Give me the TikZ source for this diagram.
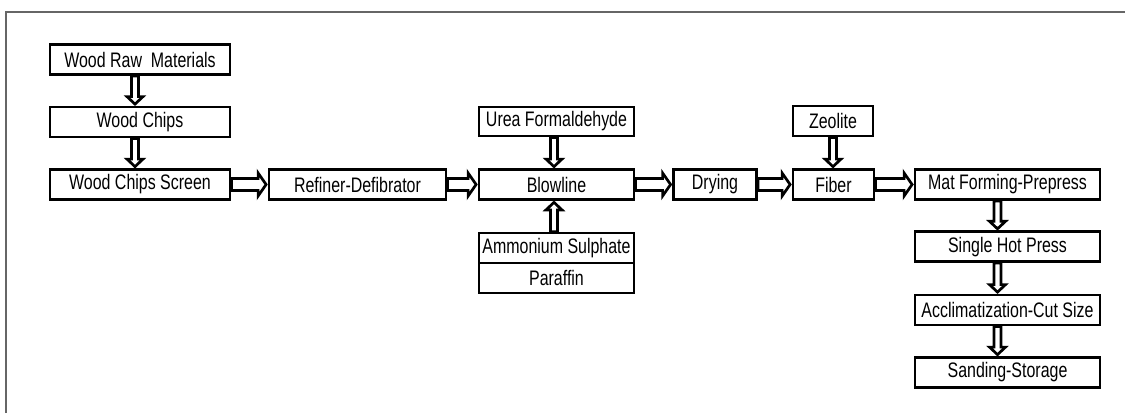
\documentclass[tikz,border=0pt]{standalone}
\usepackage{fontspec}
\setmainfont{Liberation Sans}[FakeStretch=0.76]
\usetikzlibrary{calc}

\tikzset{
  box/.style={draw, line width=2.8pt, rectangle, inner sep=0pt,
    minimum height=30pt, font=\fontsize{21}{25}\selectfont},
  blockarrow/.style={draw, fill=white, line width=2.7pt, line join=miter},
  frameline/.style={draw, line width=1.6pt, color=black!60},
}

% hollow block arrow pointing right, from the east side of #1 to the west side of #2
\newcommand{\arrowright}[2]{%
  \draw[blockarrow] let \p1=(#1.east), \p2=(#2.west) in
    (\x1,{\y1+6pt}) -- ({\x2-9.5pt},{\y1+6pt}) -- ({\x2-9.5pt},{\y1+11.5pt})
    -- ({\x2-1.5pt},\y1) -- ({\x2-9.5pt},{\y1-11.5pt}) -- ({\x2-9.5pt},{\y1-6pt})
    -- (\x1,{\y1-6pt}) -- cycle;}

% hollow block arrow pointing down, from #2 to #3, shifted sideways by #1
\newcommand{\arrowdown}[3][0pt]{%
  \draw[blockarrow] let \p1=(#2.south), \p2=(#3.north) in
    ({\x1+#1-3.5pt},\y1) -- ({\x1+#1-3.5pt},{\y2+9pt}) -- ({\x1+#1-8pt},{\y2+9pt})
    -- ({\x1+#1},{\y2+1.5pt}) -- ({\x1+#1+8pt},{\y2+9pt}) -- ({\x1+#1+3.5pt},{\y2+9pt})
    -- ({\x1+#1+3.5pt},\y1) -- cycle;}

% hollow block arrow pointing up, from #2 to #3, shifted sideways by #1
\newcommand{\arrowup}[3][0pt]{%
  \draw[blockarrow] let \p1=(#2.north), \p2=(#3.south) in
    ({\x1+#1-3.5pt},\y1) -- ({\x1+#1-3.5pt},{\y2-9pt}) -- ({\x1+#1-8pt},{\y2-9pt})
    -- ({\x1+#1},{\y2-1.5pt}) -- ({\x1+#1+8pt},{\y2-9pt}) -- ({\x1+#1+3.5pt},{\y2-9pt})
    -- ({\x1+#1+3.5pt},\y1) -- cycle;}

\begin{document}
\begin{tikzpicture}[x=1pt, y=-1pt]
\useasboundingbox (0,0) rectangle (1125,413);

% frame
\draw[frameline] (6,413) -- (6,12) -- (1125,12);

% left column
\node[box, minimum width=180pt] (raw)    at (140,59.5)  {Wood Raw~~Materials};
\node[box, minimum width=180pt] (chips)  at (140,122)   {Wood Chips};
\node[box, minimum width=180pt] (screen) at (140,184.5) {Wood Chips Screen};

% main line
\node[box, minimum width=177pt] (refiner) at (357.5,184.5) {Refiner-Defibrator};
\node[box, minimum width=155pt] (blow)    at (556.5,184.5) {Blowline};
\node[box, minimum width=155pt, minimum height=29pt] (urea) at (556.5,121.5) {Urea Formaldehyde};
\node[box, minimum width=155pt] (amm)     at (556.5,248)   {Ammonium Sulphate};
\node[box, minimum width=155pt] (par)     at (556.5,278)   {Paraffin};
\node[box, minimum width=83pt]  (drying)  at (715,184.5)   {Drying};
\node[box, minimum width=81pt]  (fiber)   at (833.5,184.5) {Fiber};
\node[box, minimum width=80pt]  (zeo)     at (833,121)     {Zeolite};

% right column
\node[box, minimum width=185pt] (mat)  at (1007.5,184.5) {Mat Forming-Prepress};
\node[box, minimum width=185pt] (hot)  at (1007.5,246.7) {Single Hot Press};
\node[box, minimum width=185pt] (acc)  at (1007.5,310)   {Acclimatization-Cut Size};
\node[box, minimum width=185pt] (sand) at (1007.5,372.5) {Sanding-Storage};

% connectors
\arrowdown[-5pt]{raw}{chips}
\arrowdown[-5pt]{chips}{screen}
\arrowright{screen}{refiner}
\arrowright{refiner}{blow}
\arrowdown[-2.5pt]{urea}{blow}
\arrowup[-2.5pt]{amm}{blow}
\arrowright{blow}{drying}
\arrowright{drying}{fiber}
\arrowdown{zeo}{fiber}
\arrowright{fiber}{mat}
\arrowdown[-10pt]{mat}{hot}
\arrowdown[-10pt]{hot}{acc}
\arrowdown[-10pt]{acc}{sand}
\end{tikzpicture}
\end{document}
